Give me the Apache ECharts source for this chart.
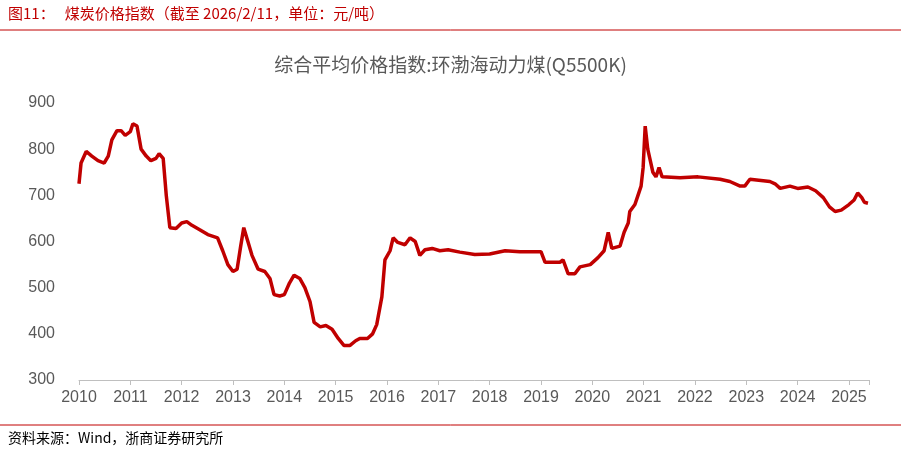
<!DOCTYPE html>
<html><head><meta charset="utf-8">
<script src="https://cdn.jsdelivr.net/npm/echarts@6/dist/echarts.min.js"></script>
<style>body{margin:0;background:#fff}#c{width:901px;height:454px}</style>
</head><body><div id="c"></div>
<script>
const years = [2010,2010.04,2010.14,2010.25,2010.37,2010.49,2010.57,2010.64,2010.74,2010.82,2010.9,2011.0,2011.05,2011.13,2011.21,2011.31,2011.4,2011.5,2011.56,2011.64,2011.7,2011.77,2011.89,2012.0,2012.1,2012.2,2012.36,2012.51,2012.7,2012.8,2012.9,2013.0,2013.08,2013.15,2013.21,2013.29,2013.37,2013.49,2013.62,2013.72,2013.8,2013.91,2014.0,2014.1,2014.19,2014.3,2014.4,2014.5,2014.58,2014.7,2014.81,2014.93,2015.05,2015.16,2015.28,2015.39,2015.47,2015.62,2015.72,2015.8,2015.9,2015.96,2016.06,2016.12,2016.21,2016.35,2016.45,2016.55,2016.64,2016.74,2016.88,2017.03,2017.19,2017.42,2017.71,2018.0,2018.3,2018.59,2018.8,2019.0,2019.08,2019.37,2019.43,2019.53,2019.66,2019.76,2019.96,2020.11,2020.23,2020.31,2020.38,2020.54,2020.62,2020.7,2020.73,2020.83,2020.89,2020.95,2020.99,2021.03,2021.08,2021.12,2021.18,2021.24,2021.3,2021.36,2021.71,2022.06,2022.49,2022.68,2022.88,2022.97,2023.07,2023.46,2023.56,2023.66,2023.85,2024.0,2024.2,2024.35,2024.5,2024.62,2024.73,2024.85,2025.0,2025.1,2025.17,2025.25,2025.3,2025.37];
const values = [725,770,795,785,775,770,785,820,840,840,830,838,855,850,800,785,775,780,790,780,700,630,628,640,643,635,625,615,608,580,550,535,540,590,630,600,570,540,535,520,485,482,485,510,527,520,500,470,425,415,418,410,390,375,375,385,390,390,400,420,480,560,580,608,598,593,608,600,570,582,585,580,582,577,572,573,580,578,578,578,555,555,560,530,530,545,550,565,580,620,585,590,620,640,665,680,700,720,760,850,800,780,750,740,760,740,738,740,735,730,720,720,735,730,725,715,720,715,718,710,695,675,665,668,680,690,705,695,685,683];
const yTicks = [300,400,500,600,700,800,900];
const data = years.map((y,i)=>[y,values[i]]);
const chart = echarts.init(document.getElementById('c'));
chart.setOption({
  backgroundColor:'#fff',
  animation:false,
  graphic:[
    {type:'text',left:8,top:6,style:{text:'图11：   煤炭价格指数（截至 2026/2/11，单位：元/吨）',fill:'#c00000',font:'15px "Noto Sans CJK SC"'}},
    {type:'line',shape:{x1:0,y1:30,x2:901,y2:30},style:{stroke:'#c00000',lineWidth:1}},
    {type:'line',shape:{x1:0,y1:425,x2:901,y2:425},style:{stroke:'#c00000',lineWidth:1}},
    {type:'text',left:8,top:431,style:{text:'资料来源：Wind，浙商证券研究所',fill:'#000',font:'14px "Noto Sans CJK SC"'}}
  ],
  title:{text:'综合平均价格指数:环渤海动力煤(Q5500K)',left:'center',top:50,textStyle:{color:'#595959',fontSize:19,fontWeight:'normal',fontFamily:'Noto Sans CJK SC'}},
  grid:{left:79,right:31.5,top:103,bottom:74},
  xAxis:{type:'value',min:2010,max:2025.4,interval:1,
    axisLine:{lineStyle:{color:'#bfbfbf'}},axisTick:{show:true,lineStyle:{color:'#bfbfbf'}},
    splitLine:{show:false},
    axisLabel:{color:'#595959',fontSize:16,margin:10,fontFamily:'Liberation Sans',formatter:v=>Number.isInteger(v)?String(v):''}},
  yAxis:{type:'value',min:yTicks[0],max:yTicks[yTicks.length-1],interval:100,
    axisLine:{show:false},axisTick:{show:false},splitLine:{show:false},
    axisLabel:{color:'#595959',fontSize:16,margin:24,fontFamily:'Liberation Sans'}},
  series:[{type:'line',data:data,showSymbol:false,lineStyle:{color:'#c00000',width:3.5},z:5}]
});
</script></body></html>
